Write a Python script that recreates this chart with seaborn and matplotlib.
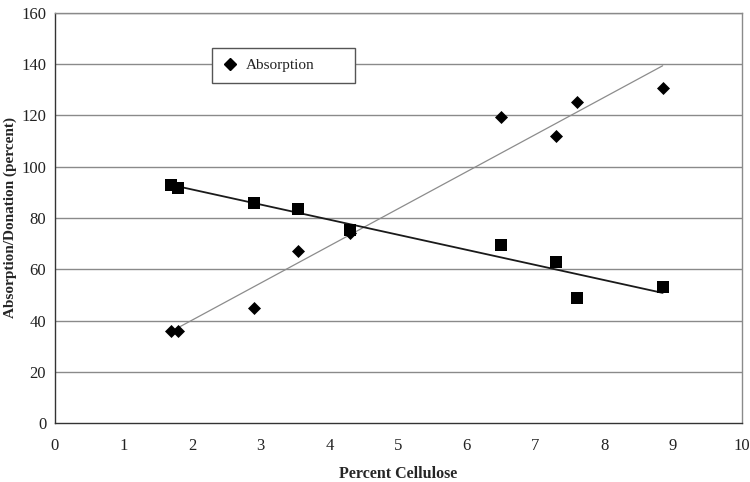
import matplotlib
matplotlib.use("Agg")
import matplotlib.pyplot as plt
from matplotlib.lines import Line2D
import seaborn as sns
import pandas as pd

# values
cellulose = [1.7, 1.8, 2.9, 3.55, 4.3, 6.5, 7.3, 7.6, 8.85]
absorption = [36, 36, 45, 67, 74, 119.5, 112, 125, 130.5]
donation = [93, 91.5, 86, 83.5, 75.5, 69.5, 63, 49, 53]
x_ticks = list(range(0, 11))
y_ticks = list(range(0, 161, 20))

df = pd.DataFrame({"Cellulose": cellulose, "Absorption": absorption, "Donation": donation})

sns.set_style("white")
plt.rcParams["font.family"] = ["Liberation Serif", "DejaVu Serif"]

fig = plt.figure(figsize=(7.5, 4.82), dpi=100)
ax = fig.add_axes([0.0727, 0.1218, 0.9162, 0.852])

# horizontal grid
for yv in y_ticks[1:]:
    ax.axhline(yv, color="#8a8a8a", lw=1.0, zorder=0)

sns.regplot(data=df, x="Cellulose", y="Absorption", ci=None, ax=ax, marker="D",
            scatter_kws={"color": "black", "s": 44, "alpha": 1, "linewidths": 0, "zorder": 3},
            line_kws={"color": "#8c8c8c", "lw": 0.9, "zorder": 2})
sns.regplot(data=df, x="Cellulose", y="Donation", ci=None, ax=ax, marker="s",
            scatter_kws={"color": "black", "s": 70, "alpha": 1, "linewidths": 0, "zorder": 3},
            line_kws={"color": "#1a1a1a", "lw": 1.3, "zorder": 2})

ax.set_xlim(0, 10)
ax.set_ylim(0, 160)
ax.set_xticks(x_ticks)
ax.set_yticks(y_ticks)
ax.tick_params(axis="both", direction="inout", length=5, width=0.8, labelsize=12, colors="#222222")
ax.tick_params(axis="x", pad=8)
ax.set_xlabel("Percent Cellulose", fontsize=11.5, fontweight="bold", labelpad=9)
ax.set_ylabel("Absorption/Donation (percent)", fontsize=11, fontweight="bold", labelpad=3)

for side in ["left", "bottom"]:
    ax.spines[side].set_color("#333333")
    ax.spines[side].set_linewidth(1.0)
for side in ["right", "top"]:
    ax.spines[side].set_color("#8a8a8a")
    ax.spines[side].set_linewidth(1.0)

handle = Line2D([], [], marker="D", color="black", linestyle="none", markersize=6)
leg = ax.legend([handle], ["Absorption"], loc="upper left",
                bbox_to_anchor=(0.229, 0.914, 0.208, 0.0), mode="expand",
                frameon=True, fancybox=False, edgecolor="#555555", fontsize=11,
                borderpad=0.7, handletextpad=0.5, handlelength=1.0, borderaxespad=0,
                framealpha=1)
leg.get_frame().set_linewidth(1.0)
leg.set_zorder(5)
for t in leg.get_texts():
    t.set_color("#222222")

fig.savefig("out.png", dpi=100)
